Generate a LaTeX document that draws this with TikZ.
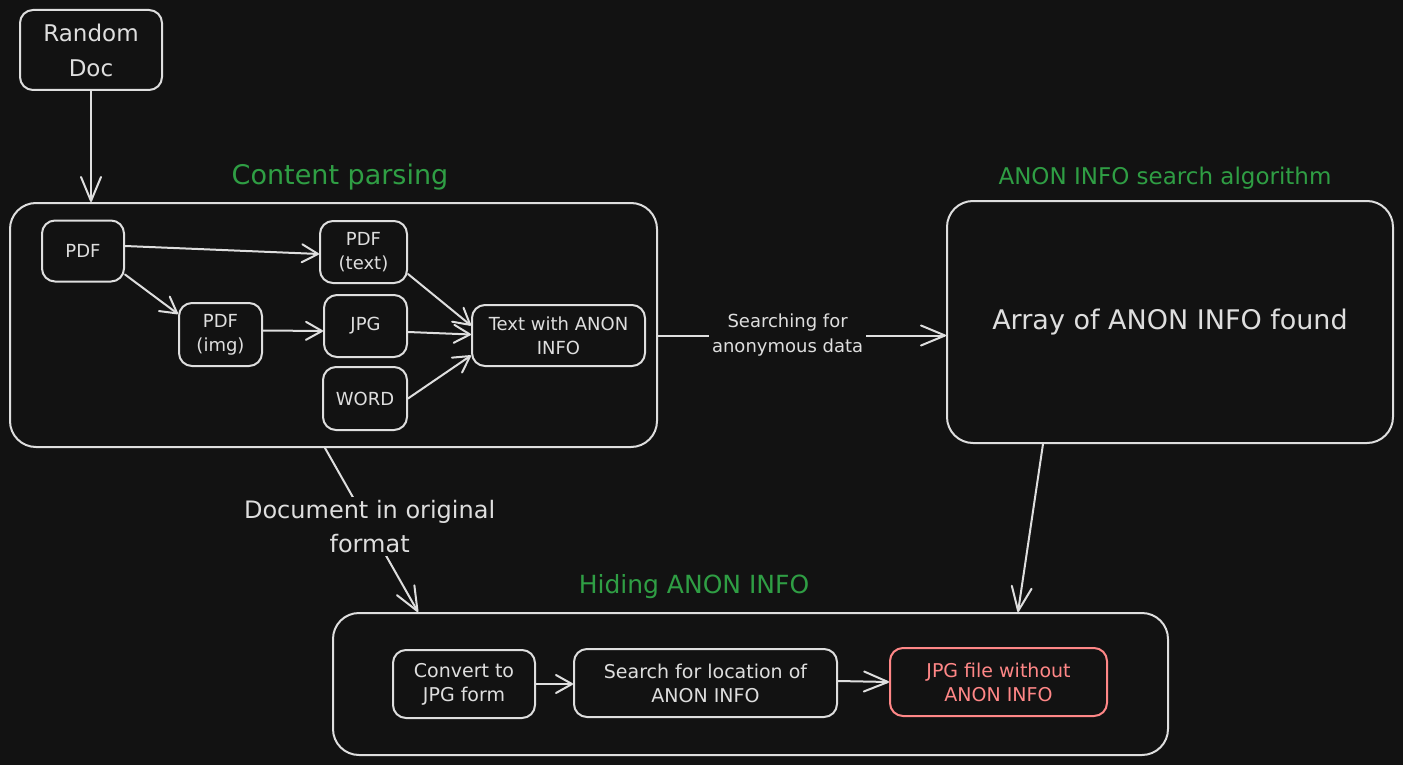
\documentclass[tikz,border=0pt]{standalone}
\usepackage{fontspec}
\setmainfont{DejaVu Sans}
\usetikzlibrary{arrows.meta}
\definecolor{bg}{HTML}{121212}
\definecolor{stk}{HTML}{DEDEDE}
\definecolor{grn}{HTML}{2F9E44}
\definecolor{redc}{HTML}{FF8787}
\tikzset{
  bx/.style={draw=stk, line width=2pt, rounded corners=13pt, inner sep=0pt, align=center, text=stk},
  bigbx/.style={draw=stk, line width=2pt, rounded corners=26pt, inner sep=0pt, align=center, text=stk},
  arr/.style={draw=stk, line width=2pt, line cap=round, -{Straight Barb[length=16pt,width=18pt,line width=2pt,round]}},
  arrbig/.style={draw=stk, line width=2pt, line cap=round, -{Straight Barb[length=24pt,width=20pt,line width=2pt,round]}},
  grnlbl/.style={text=grn, inner sep=0pt},
  lbl/.style={text=stk, fill=bg, align=center, inner sep=3pt},
  smallf/.style={font=\fontsize{18}{24}\selectfont},
  lowf/.style={font=\fontsize{19}{24}\selectfont}
}
\begin{document}
\begin{tikzpicture}[x=1pt,y=-1pt]
\fill[bg] (0,0) rectangle (1403,765);
\useasboundingbox (0,0) rectangle (1403,765);

% top node
\node[bx, minimum width=142pt, minimum height=80pt, font=\fontsize{23}{35}\selectfont] (rd) at (91,50) {Random\\Doc};

% content parsing
\node[grnlbl, font=\fontsize{27}{32}\selectfont] (cpl) at (340,177) {Content parsing};
\node[bigbx, minimum width=647pt, minimum height=244pt] (cp) at (333.5,325) {};
\node[bx, smallf, minimum width=82pt, minimum height=61pt] (pdf) at (83,251) {PDF};
\node[bx, smallf, minimum width=87pt, minimum height=62pt] (pdft) at (363.5,252) {PDF\\(text)};
\node[bx, smallf, minimum width=83pt, minimum height=63pt] (pdfi) at (220.5,334.5) {PDF\\(img)};
\node[bx, smallf, minimum width=83pt, minimum height=62pt] (jpg) at (365.5,326) {JPG};
\node[bx, smallf, minimum width=84pt, minimum height=63pt] (word) at (365,398.5) {WORD};
\node[bx, smallf, minimum width=173pt, minimum height=61pt] (twa) at (558.5,335.5) {Text with ANON\\INFO};

\draw[arr] ([yshift=5pt]pdf.east) -- ([yshift=-2pt]pdft.west);
\draw[arr] ([yshift=8pt]pdf.south east) -- ([yshift=-12pt]pdfi.north west);
\draw[arr] ([yshift=4pt]pdfi.east) -- ([yshift=-5pt]jpg.west);
\draw[arr] ([yshift=10pt]pdft.south east) -- ([yshift=10pt]twa.west);
\draw[arr] ([yshift=-6pt]jpg.east) -- ([yshift=1pt]twa.west);
\draw[arr] (word.east) -- ([yshift=-20pt]twa.west);

\draw[arrbig] (rd.south) -- (rd.south |- cp.north);

% search algorithm
\node[grnlbl, font=\fontsize{23}{28}\selectfont] (anl) at (1165,178) {ANON INFO search algorithm};
\node[bigbx, minimum width=446pt, minimum height=242pt, font=\fontsize{27}{32}\selectfont] (anon) at (1170,322) {Array of ANON INFO found};

\draw[arrbig] (cp.east |- twa.east) -- node[lbl, pos=0.45, font=\fontsize{18}{25}\selectfont] (sfl) {Searching for\\anonymous data} (anon.west |- twa.east);

% hiding
\node[grnlbl, font=\fontsize{25}{30}\selectfont] (hil) at (694,587) {Hiding ANON INFO};
\node[bigbx, minimum width=835pt, minimum height=142pt] (hide) at (750.5,684) {};
\node[bx, lowf, minimum width=142pt, minimum height=68pt] (conv) at (464,684) {Convert to\\JPG form};
\node[bx, lowf, minimum width=263pt, minimum height=68pt] (srch) at (705.5,683) {Search for location of\\ANON INFO};
\node[bx, lowf, draw=redc, text=redc, minimum width=217pt, minimum height=68pt] (jpgo) at (998.5,682) {JPG file without\\ANON INFO};

\draw[arr] (conv.east) -- (srch.west |- conv.east);
\draw[arrbig] ([yshift=2pt]srch.east) -- (jpgo.west);

\draw[arrbig] ([xshift=-127pt]anon.south) -- ([xshift=267.5pt]hide.north);
\draw[arrbig] ([xshift=-8.5pt]cp.south) -- node[lbl, pos=0.48, font=\fontsize{24}{34}\selectfont] (dol) {Document in original\\format} ([xshift=-332.5pt]hide.north);
\end{tikzpicture}
\end{document}
